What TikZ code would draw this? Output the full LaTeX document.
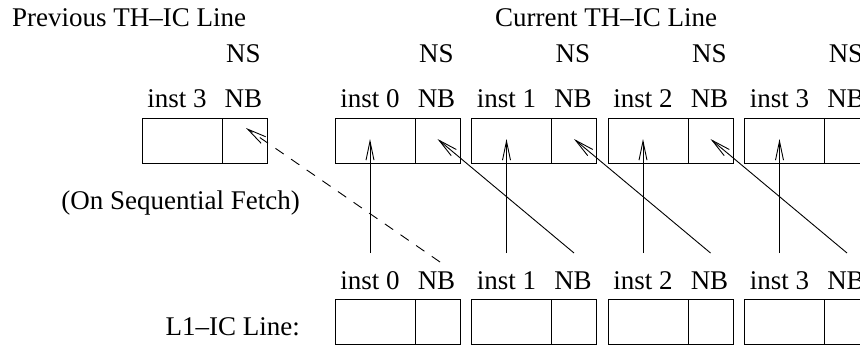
\documentclass[tikz,border=0pt]{standalone}
\usepackage{fontspec}
\setmainfont{Liberation Serif}
\usetikzlibrary{arrows.meta,calc}
\begin{document}
\begin{tikzpicture}[x=1pt,y=-1pt,
  lbl/.style={inner sep=0pt,font=\fontsize{27}{30}\selectfont},
  cellA/.style={draw,line width=1pt,minimum width=80pt,minimum height=45pt,inner sep=0pt},
  cellB/.style={draw,line width=1pt,minimum width=45pt,minimum height=45pt,inner sep=0pt},
  arr/.style={line width=0.9pt,-{Straight Barb[length=19pt,width=8pt,line width=0.9pt]}},
  darr/.style={arr,dash pattern=on 10pt off 9pt}]
\useasboundingbox (0,0) rectangle (860,345);
\begin{scope}
\clip (0,0) rectangle (860,345);
% titles
\node[lbl,anchor=base west] (tprev) at (12,27) {Previous TH–IC Line};
\node[lbl,anchor=base west] (tcur) at (495,27) {Current TH–IC Line};
% previous line
\node[cellA] (pi) at (182,140.5) {};
\node[cellB] (pn) at (244.5,140.5) {};
\node[lbl,anchor=base] (pns) at (243.5,63) {NS};
\node[lbl,anchor=base] (pnb) at (243.5,107) {NB};
\node[lbl,anchor=base] (pil) at (177,107) {inst 3};
% current and L1 lines
\foreach \k/\L in {0/335,1/471.5,2/608,3/744.5}{
  \node[cellA] (ti\k) at (\L+40,140.5) {};
  \node[cellB] (tn\k) at (\L+102.5,140.5) {};
  \node[lbl,anchor=base] (tns\k) at (\L+101.5,63) {NS};
  \node[lbl,anchor=base] (tnb\k) at (\L+101.5,107) {NB};
  \node[lbl,anchor=base] (til\k) at (\L+35,107) {inst \k};
  \node[cellA] (bi\k) at (\L+40,322) {};
  \node[cellB] (bn\k) at (\L+102.5,322) {};
  \node[lbl,anchor=base] (bnb\k) at (\L+101.5,289) {NB};
  \node[lbl,anchor=base] (bil\k) at (\L+35,289) {inst \k};
  \coordinate (vs\k) at (\L+35,253);
  \coordinate (ds\k) at (\L+102.5,253);
  \draw[arr] (vs\k) -- ([xshift=-5pt,yshift=1.5pt]ti\k.center);
}
\foreach \a/\b in {1/0,2/1,3/2}{
  \draw[arr] (ds\a) -- ([yshift=1.5pt]tn\b.center);
}
% sequential fetch
\coordinate (dstart) at (440,262);
\draw[darr] (dstart) -- ([xshift=1.5pt,yshift=12.5pt]pn.center);
\node[lbl,anchor=base east] (seq) at (300,209) {(On Sequential Fetch)};
\node[lbl,anchor=base east] (l1) at (300,335) {L1–IC Line:};
\end{scope}
\end{tikzpicture}
\end{document}
